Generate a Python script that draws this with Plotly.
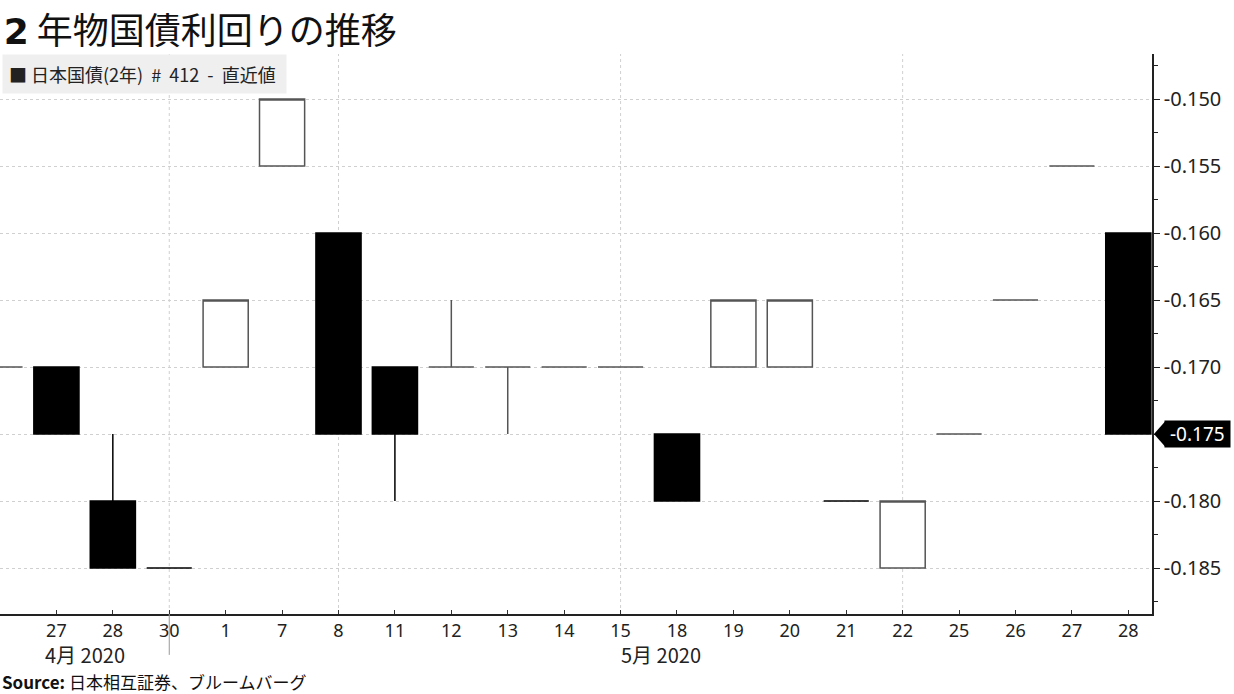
import plotly.graph_objects as go

# ---- data ----
dates = ["2020-04-24", "2020-04-27", "2020-04-28", "2020-04-30", "2020-05-01",
         "2020-05-07", "2020-05-08", "2020-05-11", "2020-05-12", "2020-05-13",
         "2020-05-14", "2020-05-15", "2020-05-18", "2020-05-19", "2020-05-20",
         "2020-05-21", "2020-05-22", "2020-05-25", "2020-05-26", "2020-05-27",
         "2020-05-28"]
tick_labels = ["24", "27", "28", "30", "1", "7", "8", "11", "12", "13", "14", "15",
               "18", "19", "20", "21", "22", "25", "26", "27", "28"]
open_ = [-0.170, -0.170, -0.180, -0.185, -0.170, -0.155, -0.160, -0.170, -0.170, -0.170,
         -0.170, -0.170, -0.175, -0.170, -0.170, -0.180, -0.185, -0.175, -0.165, -0.155,
         -0.160]
high = [-0.170, -0.170, -0.175, -0.185, -0.165, -0.150, -0.160, -0.170, -0.165, -0.170,
        -0.170, -0.170, -0.175, -0.165, -0.165, -0.180, -0.180, -0.175, -0.165, -0.155,
        -0.160]
low = [-0.170, -0.175, -0.185, -0.185, -0.170, -0.155, -0.175, -0.180, -0.170, -0.175,
       -0.170, -0.170, -0.180, -0.170, -0.170, -0.180, -0.185, -0.175, -0.165, -0.155,
       -0.175]
close = [-0.170, -0.175, -0.185, -0.185, -0.165, -0.150, -0.175, -0.175, -0.170, -0.170,
         -0.170, -0.170, -0.180, -0.165, -0.165, -0.180, -0.180, -0.175, -0.165, -0.155,
         -0.175]
grid_dates = ["2020-04-30", "2020-05-08", "2020-05-15", "2020-05-22"]
month_labels = ["4月 2020", "5月 2020"]
month_divider = "2020-04-30"
y_ticks = [-0.150, -0.155, -0.160, -0.165, -0.170, -0.175, -0.180, -0.185]
last_value = close[-1]

x_range = [0, len(dates) - 1 + 0.42]
div_idx = dates.index(month_divider)
# the last-value tag covers its own tick label
y_ticktext = ["" if abs(v - last_value) < 1e-9 else f"{v:.3f}" for v in y_ticks]

fig = go.Figure()
fig.add_trace(go.Candlestick(
    x=dates, open=open_, high=high, low=low, close=close,
    increasing=dict(fillcolor="white", line=dict(color="#555555", width=1.5)),
    decreasing=dict(fillcolor="black", line=dict(color="black", width=1.5)),
    whiskerwidth=0, showlegend=False, name="日本国債(2年)",
))

shapes = []
for g in grid_dates:
    shapes.append(dict(type="line", xref="x", yref="paper", x0=g, x1=g, y0=0, y1=1,
                       line=dict(color="#d0d0d0", width=1, dash="dot"), layer="below"))
# month divider below the axis
shapes.append(dict(type="line", xref="x", yref="paper", x0=month_divider, x1=month_divider,
                   y0=0, y1=-0.073, line=dict(color="#999999", width=1)))
# pointer of the last-value label
shapes.append(dict(type="path", xref="paper", yref="y", xsizemode="pixel", ysizemode="pixel",
                   xanchor=1, yanchor=last_value,
                   path="M 2 0 L 13 12.5 L 13 -12.5 Z",
                   fillcolor="black", line=dict(width=0)))

annotations = [
    dict(text="■ 日本国債(2年)  #  412  -  直近値 ", xref="paper", yref="paper", x=0.002, y=1.0,
         xanchor="left", yanchor="top", showarrow=False, bgcolor="#efefef",
         borderpad=6, font=dict(size=18, color="#222222", family="Noto Sans CJK JP")),
    dict(text=" -0.175 ", xref="paper", yref="y", x=1, y=last_value, xanchor="left",
         yanchor="middle", xshift=12, showarrow=False, bgcolor="black",
         font=dict(size=19, color="white", family="Noto Sans"), borderpad=0),
    dict(text=month_labels[0], xref="x", yref="paper", x=(x_range[0] + div_idx) / 2, y=-0.043,
         xanchor="center", yanchor="top", showarrow=False,
         font=dict(size=20, color="#222222", family="Noto Sans CJK JP")),
    dict(text=month_labels[1], xref="x", yref="paper", x=(div_idx + x_range[1]) / 2, y=-0.043,
         xanchor="center", yanchor="top", showarrow=False,
         font=dict(size=20, color="#222222", family="Noto Sans CJK JP")),
    dict(text="<b>Source:</b> 日本相互証券、ブルームバーグ", xref="paper", yref="paper",
         x=0.0, y=-0.095, xanchor="left", yanchor="top", showarrow=False,
         font=dict(size=17, color="#111111", family="Noto Sans CJK JP")),
]

fig.update_layout(
    width=1234, height=694,
    margin=dict(l=0, r=82, t=54, b=80),
    paper_bgcolor="white", plot_bgcolor="white",
    boxgap=0.2, boxgroupgap=0,
    title=dict(text="<b><span style='font-family:DejaVu Sans'>2</span></b> 年物国債利回りの推移",
               x=0.003, xanchor="left", yref="container", y=0.955, yanchor="middle",
               font=dict(size=36, color="#111111", family="Noto Sans CJK JP")),
    xaxis=dict(type="category", range=x_range, rangeslider=dict(visible=False),
               tickvals=dates[1:], ticktext=tick_labels[1:], ticks="inside", ticklen=4,
               tickcolor="#333333", showline=True, linecolor="#222222", linewidth=1.5,
               showgrid=False, tickfont=dict(size=18, color="#222222", family="Noto Sans")),
    yaxis=dict(side="right", range=[-0.18843, -0.14664], tickvals=y_ticks,
               ticktext=y_ticktext, ticks="outside", ticklen=6, tickcolor="#222222",
               showline=True, linecolor="#222222", linewidth=1.5, mirror=False,
               showgrid=True, gridcolor="#d0d0d0", griddash="dot", gridwidth=1,
               zeroline=False,
               minor=dict(dtick=0.0025, tick0=-0.15, ticks="outside", ticklen=4,
                          tickcolor="#222222", showgrid=False),
               tickfont=dict(size=20, color="#222222", family="Noto Sans")),
    shapes=shapes, annotations=annotations,
)

fig.write_html("out.html", post_script="document.body.style.margin='0';",
               config={"displayModeBar": False})
